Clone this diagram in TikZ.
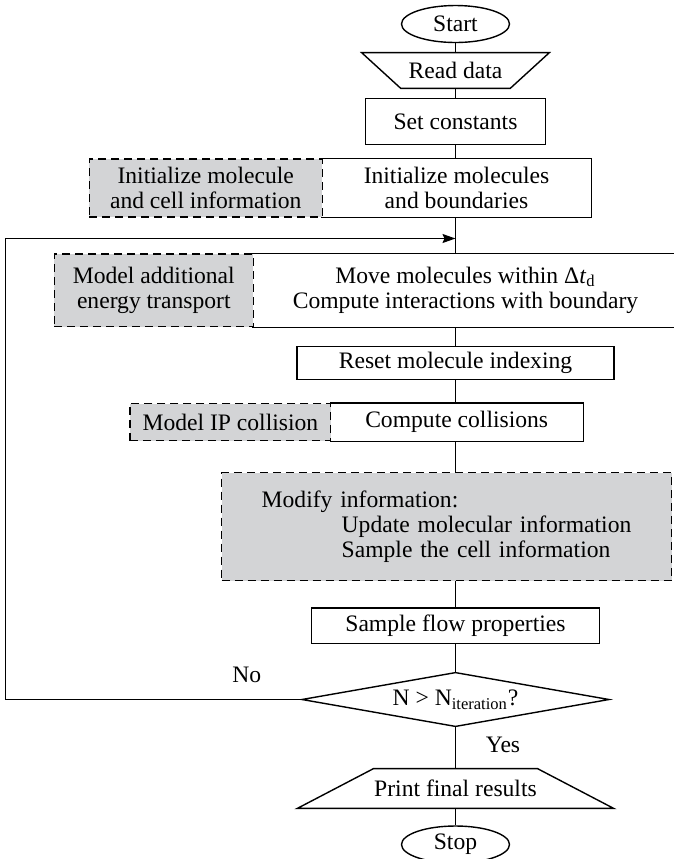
\documentclass[tikz,border=0pt]{standalone}
\usepackage{fontspec}
\setmainfont{Liberation Serif}
\usepackage{xcolor}
\usetikzlibrary{shapes.geometric,arrows.meta,calc}
\definecolor{boxgray}{RGB}{211,212,214}
\newcommand{\chartfont}{\fontsize{11.8}{12.6}\selectfont}

\begin{document}
\begin{tikzpicture}[x=0.5pt,y=-0.5pt,line width=0.7pt,
  every node/.style={font=\chartfont},
  procbox/.style={draw,rectangle,inner sep=0pt,align=center},
  bare/.style={rectangle,inner sep=0pt,align=center},
  sidebox/.style={draw,dash pattern=on 4pt off 2.5pt,fill=boxgray,rectangle,inner sep=0pt,align=center},
  terminal/.style={draw,ellipse,inner sep=0pt,minimum width=54pt,minimum height=18.5pt}]
\useasboundingbox (0,0) rectangle (674,859);
\clip (0,0) rectangle (674,859);
\node[terminal] (start) at (455.5,24) {Start};
\node[bare,minimum width=54pt,minimum height=17.2pt] (read) at (455.5,70.5) {Read data};
\draw (read.south west) -- (read.south east) -- ([xshift=19.6pt]read.north east) -- ([xshift=-19.6pt]read.north west) -- cycle;
\node[procbox,minimum width=90pt,minimum height=23pt] (const) at (455.5,121.3) {Set constants};
\node[bare,minimum width=134.5pt,minimum height=29pt] (initR) at (456.5,188) {Initialize molecules\\and boundaries};
\draw (initR.north west) -- (initR.north east) -- (initR.south east) -- (initR.south west);
\node[sidebox,minimum width=116.5pt,minimum height=29pt] (initL) at (205.7,188) {Initialize molecule\\and cell information};
\node[bare,minimum width=212.5pt,minimum height=36.3pt] (moveR) at (465.5,290.3) {Move molecules within Δ\textit{t}\textsubscript{d}\\Compute interactions with boundary};
\draw (moveR.north west) -- (moveR.north east) -- (moveR.south east) -- (moveR.south west);
\node[sidebox,minimum width=99.5pt,minimum height=36.3pt] (moveL) at (153.8,290.3) {Model additional\\energy transport};
\node[procbox,minimum width=158.5pt,minimum height=16.3pt] (reset) at (455.5,363) {Reset molecule indexing};
\node[bare,minimum width=126pt,minimum height=18.5pt] (collR) at (456.7,422) {Compute collisions};
\draw (collR.north west) -- (collR.north east) -- (collR.south east) -- (collR.south west);
\node[sidebox,minimum width=100.3pt,minimum height=18.5pt] (collL) at (230.4,422) {Model IP collision};
\node[sidebox,minimum height=54pt,text width=185pt,inner xsep=20pt,align=left] (modify) at (446.7,526.6) {Modify information:\\\hspace*{40pt}Update molecular information\\\hspace*{40pt}Sample the cell information};
\node[procbox,minimum width=144.2pt,minimum height=17.7pt] (flow) at (455.5,625.8) {Sample flow properties};
\node[bare,minimum width=152.8pt,minimum height=26.2pt] (cond) at (455.5,699.5) {N > N\textsubscript{iteration}?};
\draw (cond.west) -- (cond.north) -- (cond.east) -- (cond.south) -- cycle;
\node[bare,minimum width=72.5pt,minimum height=19.2pt] (print) at (455.5,788.5) {Print final results};
\draw (print.north west) -- (print.north east) -- ([xshift=38.1pt]print.south east) -- ([xshift=-38.1pt]print.south west) -- cycle;
\node[terminal] (stop) at (455.5,844.5) {Stop};
\node (no) at (246.7,675) {No};
\node (yes) at (503,745) {Yes};
\coordinate (back) at (5.7,699.5);
\coordinate (join) at (455.5,238.5);
\draw (start) -- (read);
\draw (read) -- (const);
\draw (const.south) -- (const.south |- initR.north);
\draw (const.south |- initR.south) -- (const.south |- moveR.north);
\draw (reset.north |- moveR.south) -- (reset.north);
\draw (reset.south) -- (reset.south |- collR.north);
\draw (reset.south |- collR.south) -- (reset.south |- modify.north);
\draw (flow.north |- modify.south) -- (flow.north);
\draw (flow) -- (cond);
\draw (cond) -- (print);
\draw (print) -- (stop);
\draw[-{Stealth[length=6.5pt,width=4.5pt,inset=1pt]}] (cond.west) -- (back) |- (join);
\end{tikzpicture}
\end{document}
